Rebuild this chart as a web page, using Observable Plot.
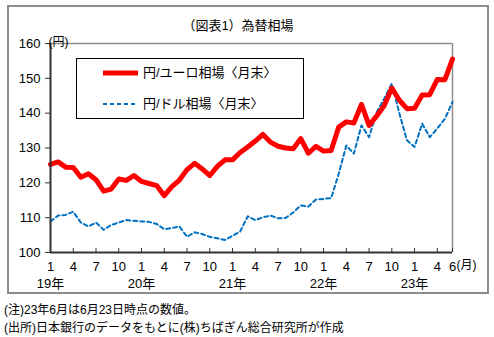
<!DOCTYPE html>
<html><head><meta charset="utf-8">
<script src="https://cdn.jsdelivr.net/npm/d3@7"></script>
<script src="https://cdn.jsdelivr.net/npm/@observablehq/plot@0.6"></script>
<style>
body{margin:0;background:#fff;font-family:"Liberation Sans",Arial,"Noto Sans CJK JP",sans-serif;color:#000}
#wrap{position:relative;width:494px;height:337px;overflow:hidden}
#frame{position:absolute;left:7px;top:5px;width:482px;height:289px;border:2px solid #8c8c8c;box-sizing:border-box}
#chart{position:absolute;left:0;top:0}
#title{position:absolute;left:0;width:476px;top:18px;text-align:center;font-size:13px;line-height:16px}
#legend{position:absolute;left:76px;top:58px;width:228px;height:61px;border:1px solid #000;background:#fff;box-sizing:border-box;font-size:13px}
.li{position:absolute;left:26px;height:16px;line-height:16px;white-space:nowrap}
.li svg{position:absolute;left:0;top:0}
.li span{position:absolute;left:40px;top:0}
.note{position:absolute;left:4px;font-size:12px;line-height:16px;white-space:nowrap}
</style></head>
<body>
<div id="wrap">
  <div id="frame"></div>
  <div id="chart"></div>
  <div id="title">（図表1）為替相場</div>
  <div id="legend"></div>
  <div class="note" style="top:302px">(注)23年6月は6月23日時点の数値。</div>
  <div class="note" style="top:320px">(出所)日本銀行のデータをもとに(株)ちばぎん総合研究所が作成</div>
</div>
<script>
const months = [
 "19/1","19/2","19/3","19/4","19/5","19/6","19/7","19/8","19/9","19/10","19/11","19/12",
 "20/1","20/2","20/3","20/4","20/5","20/6","20/7","20/8","20/9","20/10","20/11","20/12",
 "21/1","21/2","21/3","21/4","21/5","21/6","21/7","21/8","21/9","21/10","21/11","21/12",
 "22/1","22/2","22/3","22/4","22/5","22/6","22/7","22/8","22/9","22/10","22/11","22/12",
 "23/1","23/2","23/3","23/4","23/5","23/6"];
const eur = [
 125.3,126.0,124.5,124.4,121.6,122.6,120.9,117.6,118.2,121.1,120.7,122.1,
 120.4,119.8,119.2,116.3,118.9,120.8,123.8,125.6,124.0,122.1,124.7,126.6,
 126.6,128.7,130.3,132.0,133.9,131.7,130.5,130.0,129.8,132.7,128.5,130.5,
 129.1,129.3,136.0,137.5,137.2,142.5,136.5,139.2,142.2,147.2,143.7,141.3,
 141.4,145.2,145.3,149.7,149.6,155.5];
const usd = [
 108.9,110.6,110.8,111.7,108.6,107.5,108.6,106.5,107.9,108.6,109.3,109.1,
 108.9,108.8,108.2,106.7,107.0,107.5,104.5,105.8,105.3,104.5,104.1,103.6,
 104.8,106.0,110.4,109.3,110.1,110.6,109.8,109.9,111.5,113.5,113.2,115.2,
 115.4,115.6,122.6,130.7,128.4,136.5,133.1,140.3,144.2,148.5,139.9,132.2,
 130.3,137.0,133.1,135.6,138.4,143.2];
const seriesNames = ["円/ユーロ相場〈月末〉","円/ドル相場〈月末〉"];
const tickMonths = ["19/1","19/4","19/7","19/10","20/1","20/4","20/7","20/10","21/1","21/4","21/7","21/10","22/1","22/4","22/7","22/10","23/1","23/4","23/6"];
const yearLabels = ["19年","20年","21年","22年","23年"];
const yearStarts = ["19/1","20/1","21/1","22/1","23/1"];
const yTicks = [100,110,120,130,140,150,160];

const red = "#ff0000", blue = "#0070c0";
const eurData = months.map((m,i)=>({m, v: eur[i]}));
const usdData = months.map((m,i)=>({m, v: usd[i]}));

const chart = Plot.plot({
  width: 494, height: 295,
  marginLeft: 50, marginRight: 42, marginTop: 43, marginBottom: 43,
  style: {fontFamily: '"Liberation Sans",Arial,"Noto Sans CJK JP",sans-serif', fontSize: "13px", background: "transparent", color: "#000"},
  x: {type: "point", domain: months, padding: 0},
  y: {domain: [100, 160]},
  marks: [
    Plot.ruleY([160], {stroke: "#8c8c8c", strokeWidth: 1.5}),
    Plot.ruleX([months[months.length-1]], {stroke: "#8c8c8c", strokeWidth: 1.5}),
    Plot.line(usdData, {x: "m", y: "v", stroke: blue, strokeWidth: 2, strokeDasharray: "4,3"}),
    Plot.line(eurData, {x: "m", y: "v", stroke: red, strokeWidth: 5, strokeLinejoin: "round"}),
    Plot.ruleX([months[0]], {stroke: "#333", strokeWidth: 2}),
    Plot.ruleY([100], {stroke: "#333", strokeWidth: 2}),
    Plot.axisY({ticks: yTicks, tickSize: 5, tickPadding: 5, label: null, fontSize: 13, stroke: "#333"}),
    Plot.axisX({ticks: tickMonths, tickSize: -4, tickFormat: () => "", label: null, stroke: "#333"}),
    Plot.axisX({ticks: tickMonths, tickSize: 0, tickPadding: 9, tickFormat: d => d.split("/")[1], label: null, fontSize: 13}),
    Plot.text(yearLabels, {x: yearStarts, text: yearLabels, frameAnchor: "bottom", dy: 35, fontSize: 13}),
    Plot.text(["(円)"], {frameAnchor: "top-left", textAnchor: "start", dx: -2, dy: -6, fontSize: 12}),
    Plot.text(["(月)"], {frameAnchor: "bottom-right", textAnchor: "start", dx: 4, dy: 16, fontSize: 12})
  ]
});
document.getElementById("chart").appendChild(chart);

const legend = document.getElementById("legend");
legend.innerHTML =
 `<div class="li" style="top:6px"><svg width="36" height="16"><line x1="0" x2="35" y1="8" y2="8" stroke="${red}" stroke-width="5"/></svg><span>${seriesNames[0]}</span></div>` +
 `<div class="li" style="top:37px"><svg width="36" height="16"><line x1="0" x2="35" y1="8" y2="8" stroke="${blue}" stroke-width="2" stroke-dasharray="4,3"/></svg><span>${seriesNames[1]}</span></div>`;
</script>
</body></html>
